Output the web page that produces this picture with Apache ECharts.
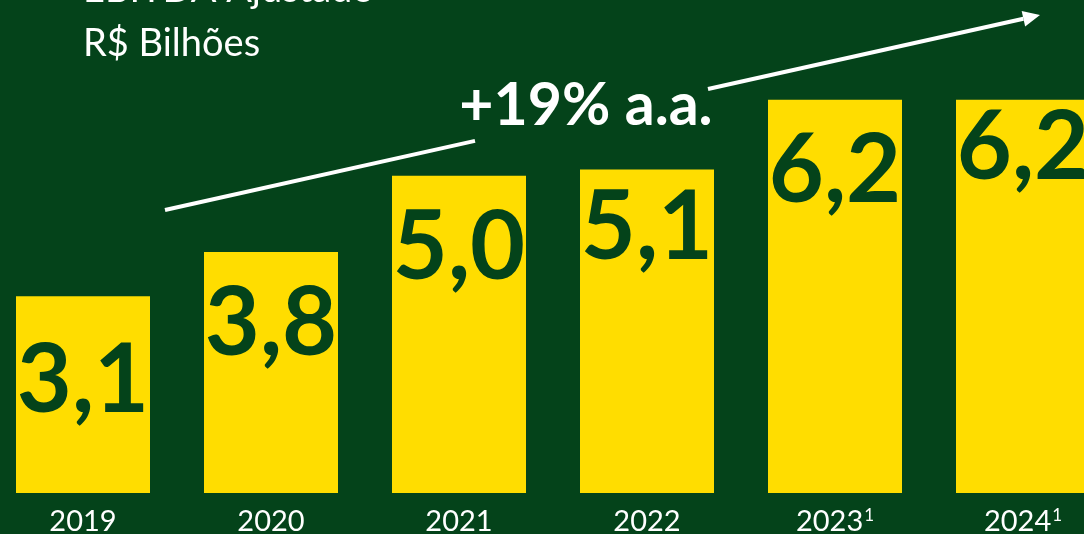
<!DOCTYPE html>
<html>
<head>
<meta charset="utf-8">
<script src="https://cdn.jsdelivr.net/npm/echarts@6/dist/echarts.min.js"></script>
<style>
html,body{margin:0;padding:0;background:#04431A;}
#c{width:1084px;height:534px;}
</style>
</head>
<body>
<div id="c"></div>
<script>
var categories = ['2019', '2020', '2021', '2022', '2023', '2024'];
var footnoteMarks = ['', '', '', '', '1', '1'];
var values = [3.1, 3.8, 5.0, 5.1, 6.2, 6.2];
var titleLines = ['EBITDA Ajustado', 'R$ Bilhões'];
var growthLabel = '+19% a.a.';
// vertical placement of each value label inside its bar (px from bar top)
var labelDy = [85, 72, 73, 59, 72, 49];

var BG = '#04431A', YEL = '#FFDD00';
var chart = echarts.init(document.getElementById('c'));

function fmt(v){ return v.toFixed(1).replace('.', ','); }

var barData = values.map(function(v, i){
  return {
    value: v,
    label: { position: ['50%', labelDy[i]] }
  };
});

// arrow geometry (annotation)
var tip = [1040, 15], start = [165, 210];
var dx = tip[0]-start[0], dy = tip[1]-start[1], len = Math.sqrt(dx*dx+dy*dy);
var ux = dx/len, uy = dy/len, nx = -uy, ny = ux;
var headL = 17, headW = 8;
var base = [tip[0]-headL*ux, tip[1]-headL*uy];

chart.setOption({
  backgroundColor: BG,
  animation: false,
  title: {
    text: titleLines.join('\n'),
    left: 78, top: -42,
    textStyle: { color: '#fff', fontFamily: 'Lato', fontWeight: 'normal', fontSize: 38, lineHeight: 54 }
  },
  grid: { left: -11, right: -33, top: 49, bottom: 41, containLabel: false, outerBoundsMode: 'none' },
  xAxis: {
    type: 'category',
    data: categories,
    axisLine: { show: false },
    axisTick: { show: false },
    axisLabel: {
      interval: 0,
      hideOverlap: false,
      color: '#fff', fontFamily: 'Lato', fontSize: 29, margin: 14,
      formatter: function(v, i){
        return footnoteMarks[i] ? '{m|' + v + '}{s|' + footnoteMarks[i] + '}' : '{m|' + v + '}';
      },
      rich: {
        m: { color: '#fff', fontFamily: 'Lato', fontSize: 29 },
        s: { color: '#fff', fontFamily: 'Lato', fontSize: 17, verticalAlign: 'top', padding: [0, 0, 10, 1] }
      }
    }
  },
  yAxis: { type: 'value', min: 0, max: 7, show: false, splitLine: { show: false } },
  series: [{
    type: 'bar',
    data: barData,
    barWidth: 134,
    itemStyle: { color: YEL },
    label: {
      show: true,
      align: 'center',
      verticalAlign: 'middle',
      color: BG,
      fontFamily: 'Lato',
      fontWeight: 'bold',
      fontSize: 95,
      formatter: function(p){ return fmt(p.value); }
    }
  }],
  graphic: [
    { type: 'line', shape: { x1: start[0], y1: start[1], x2: 475, y2: start[1] + (475-start[0])*dy/dx },
      style: { stroke: '#fff', lineWidth: 4 } },
    { type: 'line', shape: { x1: 708, y1: start[1] + (708-start[0])*dy/dx, x2: base[0], y2: base[1] },
      style: { stroke: '#fff', lineWidth: 4 } },
    { type: 'polygon', shape: { points: [tip, [base[0]+headW*nx, base[1]+headW*ny], [base[0]-headW*nx, base[1]-headW*ny]] },
      style: { fill: '#fff' } },
    { type: 'text', x: 586, y: 106,
      style: { text: growthLabel, fill: '#fff', font: 'bold 59px Lato', align: 'center', verticalAlign: 'middle' } }
  ]
});
</script>
</body>
</html>
